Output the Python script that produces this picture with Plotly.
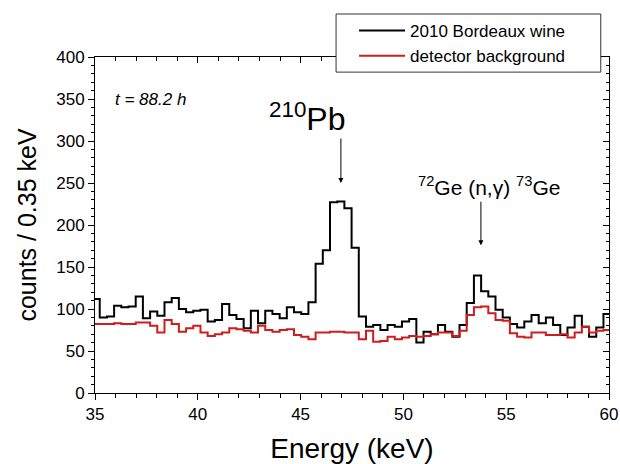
import numpy as np
import plotly.graph_objects as go

# Histogram data (counts per 0.35 keV bin), first bin starts at 34.88 keV
bin_start = 34.88
bin_width = 0.35
wine_counts = [112, 90, 91, 104, 102, 103, 115, 89, 97, 92,
               108, 113, 100, 96, 98, 99, 85, 87, 106, 93,
               88, 77, 98, 83, 98, 94, 89, 102, 96, 94,
               108, 154, 170, 227, 228, 220, 173, 91, 79, 81,
               75, 81, 79, 85, 88, 60, 73, 70, 81, 73,
               67, 81, 107, 140, 121, 115, 99, 90, 82, 78,
               85, 93, 83, 90, 81, 69, 78, 92, 79, 67,
               78, 94]
background_counts = [82, 82, 82, 83, 82, 82, 84, 84, 80, 72,
                     87, 82, 73, 77, 80, 72, 68, 70, 72, 77,
                     76, 74, 72, 80, 75, 73, 75, 76, 69, 67,
                     64, 72, 72, 73, 73, 72, 72, 64, 74, 61,
                     62, 67, 64, 66, 68, 67, 68, 70, 72, 72,
                     68, 74, 93, 102, 103, 95, 87, 86, 71, 67,
                     66, 72, 72, 69, 69, 70, 66, 72, 79, 72,
                     74, 75]

series_names = ["2010 Bordeaux wine", "detector background"]
x_ticks = [35, 40, 45, 50, 55, 60]
y_ticks = [0, 50, 100, 150, 200, 250, 300, 350, 400]

n = len(wine_counts)
edges = bin_start + bin_width * np.arange(n + 1)

FONT = "Arial, Liberation Sans, Helvetica, sans-serif"

def step(vals):
    return list(vals) + [vals[-1]]

fig = go.Figure()
fig.add_trace(go.Scatter(x=edges, y=step(wine_counts), mode="lines",
                         line=dict(color="#000000", width=2, shape="hv"),
                         name=series_names[0], legendgroup="a"))
fig.add_trace(go.Scatter(x=edges, y=step(background_counts), mode="lines",
                         line=dict(color="#d01c1c", width=2, shape="hv"),
                         name=series_names[1], legendgroup="b"))
# dummy trace for mirrored (inside-tick) top/right axes
fig.add_trace(go.Scatter(x=[35, 60], y=[0, 400], xaxis="x2", yaxis="y2",
                         mode="lines", line=dict(width=0), showlegend=False,
                         hoverinfo="skip"))

axis_common = dict(showgrid=False, zeroline=False, linecolor="#000",
                   linewidth=1, tickcolor="#000", automargin=False)

fig.update_layout(
    width=620, height=464,
    margin=dict(l=95, r=11, t=57, b=71, autoexpand=False),
    paper_bgcolor="white", plot_bgcolor="white",
    font=dict(family=FONT, color="#000"),
    xaxis=dict(range=[35, 60], tickvals=x_ticks, ticks="outside", ticklen=6,
               tickfont=dict(size=17),
               minor=dict(dtick=1, tick0=35, ticks="outside", ticklen=4, tickcolor="#000"),
               title=dict(text="Energy (keV)", font=dict(size=28), standoff=14),
               **axis_common),
    yaxis=dict(range=[0, 400], tickvals=y_ticks, ticks="outside", ticklen=6,
               tickfont=dict(size=17),
               minor=dict(dtick=10, tick0=0, ticks="outside", ticklen=3, tickcolor="#000"),
               title=dict(text="counts / 0.35 keV", font=dict(size=25), standoff=12),
               **axis_common),
    xaxis2=dict(range=[35, 60], overlaying="x", side="top", anchor="y2",
                tickvals=x_ticks, ticks="inside", ticklen=6, showticklabels=False,
                minor=dict(dtick=1, tick0=35, ticks="inside", ticklen=4, tickcolor="#000"),
                **axis_common),
    yaxis2=dict(range=[0, 400], overlaying="y", side="right", anchor="x2",
                tickvals=y_ticks, ticks="inside", ticklen=6, showticklabels=False,
                minor=dict(dtick=10, tick0=0, ticks="inside", ticklen=3, tickcolor="#000"),
                **axis_common),
    legend=dict(x=0.504, y=1.131, xanchor="left", yanchor="top",
                bgcolor="rgba(0,0,0,0)", borderwidth=0,
                font=dict(size=17), tracegroupgap=10, itemwidth=46,
                traceorder="normal"),
    showlegend=True,
    shapes=[dict(type="rect", xref="paper", yref="paper",
                 x0=0.469, x1=0.984, y0=0.955, y1=1.128,
                 fillcolor="white", line=dict(color="#333", width=1),
                 layer="above")],
)

ann = []
ann.append(dict(x=35.88, y=350, xref="x", yref="y", text="<i>t = 88.2 h</i>",
                showarrow=False, xanchor="left", yanchor="middle",
                font=dict(size=17, family=FONT)))
ann.append(dict(x=45.35, y=329, xref="x", yref="y", text="<sup>210</sup>Pb",
                showarrow=False, xanchor="center", yanchor="middle",
                font=dict(size=32, family=FONT)))
ann.append(dict(x=46.96, y=250, xref="x", yref="y", text="", showarrow=True,
                ax=0, ay=-46, arrowhead=2, arrowsize=1, arrowwidth=1,
                arrowcolor="#000"))
ann.append(dict(x=54.15, y=247, xref="x", yref="y",
                text="<sup>72</sup>Ge (n,\u03b3) <sup>73</sup>Ge",
                showarrow=False, xanchor="center", yanchor="middle",
                font=dict(size=21, family=FONT)))
ann.append(dict(x=53.77, y=176, xref="x", yref="y", text="", showarrow=True,
                ax=0, ay=-45, arrowhead=2, arrowsize=1, arrowwidth=1,
                arrowcolor="#000"))
fig.update_layout(annotations=ann)

fig.write_html("out.html",
               config={"displayModeBar": False},
               post_script="document.body.style.margin='0';document.body.style.overflow='hidden';")
